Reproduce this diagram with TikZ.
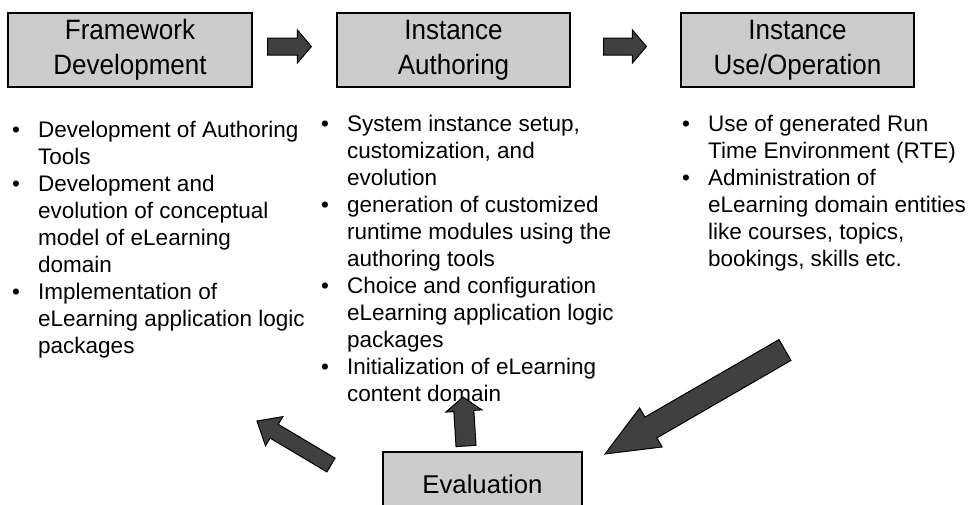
\documentclass[tikz,border=0pt]{standalone}
\usepackage{fontspec}
\setmainfont{Liberation Sans}
\newfontfamily\stagefont[FakeStretch=0.93]{Liberation Sans}
\usetikzlibrary{calc}
\definecolor{boxgray}{gray}{0.8}
\definecolor{arrgray}{gray}{0.25}
\newcommand\firststrut{\rule{0pt}{17pt}}
\newcommand\bul{\makebox[26pt][l]{•}}
\newcommand\ind{\hspace*{26pt}}
% #1 tail, #2 tip, #3 shaft half width, #4 head half width, #5 head length
\newcommand\blockarr[5]{%
  \coordinate (hb) at ($(#2)!#5!(#1)$);
  \filldraw[blockarrow] ($(#1)!#3!90:(#2)$) -- ($(hb)!#3!-90:(#1)$)
    -- ($(hb)!#4!-90:(#1)$) -- (#2) -- ($(hb)!#4!90:(#1)$)
    -- ($(hb)!#3!90:(#1)$) -- ($(#1)!#3!-90:(#2)$) -- cycle;
}
\begin{document}
\begin{tikzpicture}[x=1pt,y=-1pt,
  stage/.style={draw=black,line width=1.2pt,fill=boxgray,minimum height=74pt,
    inner sep=0pt,align=center,font=\stagefont\fontsize{28}{35}\selectfont},
  evalbox/.style={draw=black,line width=1.2pt,fill=boxgray,minimum height=64pt,
    inner sep=0pt,align=center,font=\fontsize{25.7}{31}\selectfont},
  items/.style={anchor=north west,align=left,inner sep=0pt,
    font=\fontsize{22.5}{27}\selectfont},
  blockarrow/.style={fill=arrgray,draw=black,line width=1pt,line join=miter}]
\useasboundingbox (0,0) rectangle (971,504);
\node[stage,minimum width=244pt] (fw) at (130,50) {Framework\\Development};
\node[stage,minimum width=233pt] (ia) at (453.5,50) {Instance\\Authoring};
\node[stage,minimum width=233pt] (iu) at (797.5,50) {Instance\\Use/Operation};
\begin{scope}
  \clip (0,0) rectangle (971,504);
  \node[evalbox,minimum width=199pt] (ev) at (482.5,484) {Evaluation};
\end{scope}

\node[items] (c1) at (12,120) {\firststrut\bul Development of Authoring\\
\ind Tools\\
\bul Development and\\
\ind evolution of conceptual\\
\ind model of eLearning\\
\ind domain\\
\bul Implementation of\\
\ind eLearning application logic\\
\ind packages};

\node[items] (c2) at (321,114) {\firststrut\bul System instance setup,\\
\ind customization, and\\
\ind evolution\\
\bul generation of customized\\
\ind runtime modules using the\\
\ind authoring tools\\
\bul Choice and configuration\\
\ind eLearning application logic\\
\ind packages\\
\bul Initialization of eLearning\\
\ind content domain};

\node[items] (c3) at (682,114) {\firststrut\bul Use of generated Run\\
\ind Time Environment (RTE)\\
\bul Administration of\\
\ind eLearning domain entities\\
\ind like courses, topics,\\
\ind bookings, skills etc.};

% top arrows
\coordinate (a1t) at ($(fw.east)+(15,-3.5)$);
\coordinate (a1h) at ($(ia.west)+(-25,-3.5)$);
\blockarr{a1t}{a1h}{8.5pt}{16.5pt}{14pt}
\coordinate (a2t) at ($(ia.east)+(33,-3.5)$);
\coordinate (a2h) at ($(iu.west)+(-34,-3.5)$);
\blockarr{a2t}{a2h}{8.5pt}{16.5pt}{14pt}

% evaluation arrows
\coordinate (upt) at (466,446);
\coordinate (uph) at (463,397);
\blockarr{upt}{uph}{10pt}{18pt}{14pt}
\coordinate (lft) at (331,465);
\coordinate (lfh) at (257,421);
\blockarr{lft}{lfh}{8pt}{17pt}{20pt}
\coordinate (bgt) at (785,350);
\coordinate (bgh) at (605,454);
\blockarr{bgt}{bgh}{12pt}{22.5pt}{53pt}
\end{tikzpicture}
\end{document}
